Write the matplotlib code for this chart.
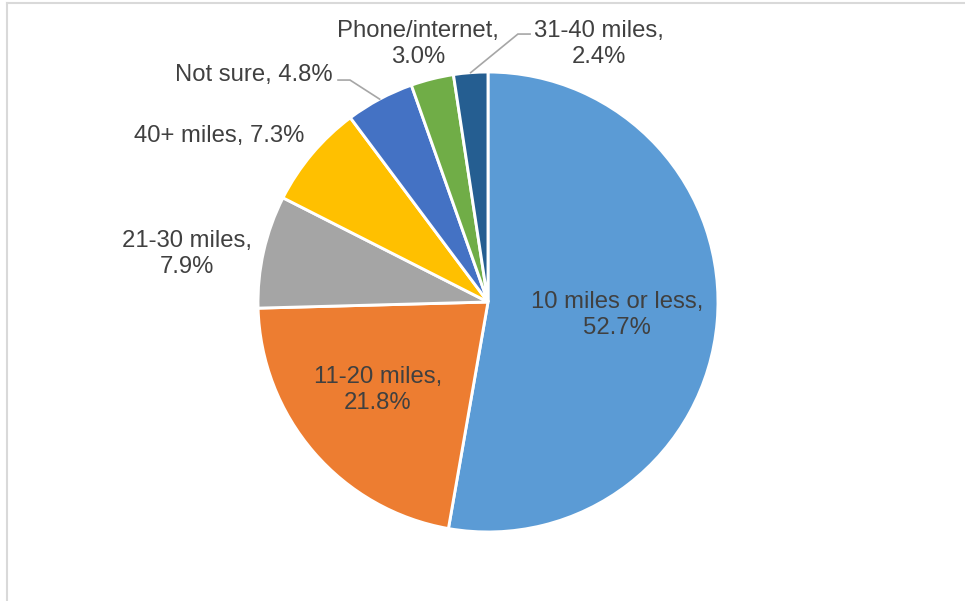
import numpy as np
import matplotlib.pyplot as plt
from matplotlib.lines import Line2D

plt.rcParams['font.family'] = ['Liberation Sans', 'DejaVu Sans']

categories = ['10 miles or less', '11-20 miles', '21-30 miles', '40+ miles',
              'Not sure', 'Phone/internet', '31-40 miles']
shares = [52.7, 21.8, 7.9, 7.3, 4.8, 3.0, 2.4]
colors = ['#5B9BD5', '#ED7D31', '#A5A5A5', '#FFC000', '#4472C4', '#70AD47', '#255E91']

# label placement (pie radius = 1, centre at 0,0)
label_pos = [(0.561, -0.057), (-0.478, -0.383), (-1.309, 0.209), (-1.170, 0.722),
             (-0.674, 0.987), (-0.304, 1.122), (0.483, 1.122)]
label_ha = ['center', 'center', 'center', 'center', 'right', 'center', 'center']
label_two_lines = [True, True, True, False, False, True, True]
# leader lines: (start, elbow) for labels that have one
leaders = {4: [(-0.652, 0.965), (-0.600, 0.965)],
           6: [(0.183, 1.165), (0.130, 1.165)]}

W, H = 965, 601
cx, cy, R = 488, 302, 230

fig = plt.figure(figsize=(W / 100, H / 100), dpi=100)
ax = fig.add_axes([0, 0, 1, 1])
wedges, _ = ax.pie(shares, colors=colors, startangle=90, counterclock=False,
                   radius=1, center=(0, 0),
                   wedgeprops=dict(edgecolor='white', linewidth=2.1))
ax.set_xlim(-cx / R, (W - cx) / R)
ax.set_ylim(-(H - cy) / R, cy / R)
ax.set_aspect('equal', adjustable='datalim')
ax.axis('off')

for i, (cat, val) in enumerate(zip(categories, shares)):
    sep = '\n' if label_two_lines[i] else ' '
    txt = f'{cat},{sep}{val:.1f}%'
    x, y = label_pos[i]
    ax.text(x, y, txt, ha=label_ha[i], va='center', fontsize=17.2,
            color='#404040', linespacing=1.2)
    if i in leaders:
        w = wedges[i]
        mid = np.deg2rad((w.theta1 + w.theta2) / 2)
        pts = leaders[i] + [(np.cos(mid), np.sin(mid))]
        ax.plot([p[0] for p in pts], [p[1] for p in pts], color='#A6A6A6', lw=1.2,
                solid_joinstyle='miter')

# chart area border (partly cropped)
fig.add_artist(Line2D([7 / W, 7 / W], [0, 1 - 3 / H], color='#D9D9D9', lw=1.5,
                      transform=fig.transFigure))
fig.add_artist(Line2D([7 / W, 1], [1 - 3 / H, 1 - 3 / H], color='#D9D9D9', lw=1.5,
                      transform=fig.transFigure))

fig.savefig('out.png', dpi=100, facecolor='white')
